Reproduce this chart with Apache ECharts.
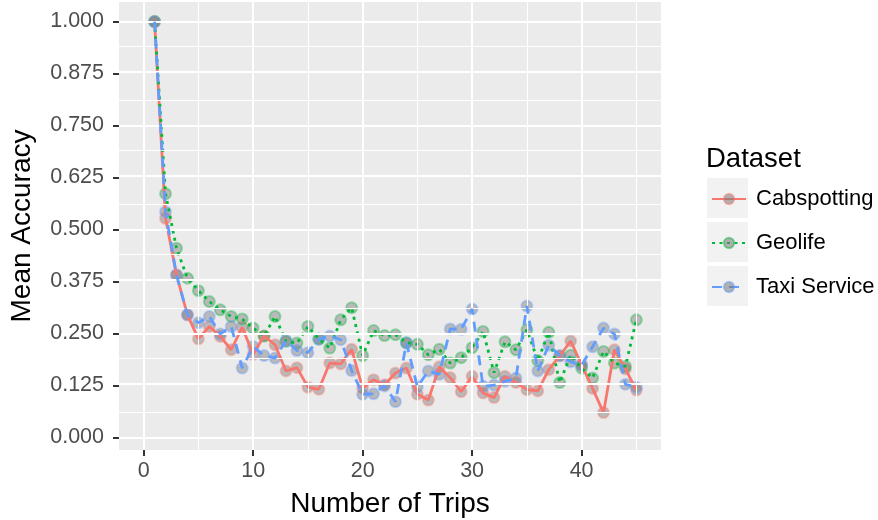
<!DOCTYPE html>
<html><head><meta charset="utf-8">
<script src="https://cdn.jsdelivr.net/npm/echarts@6/dist/echarts.min.js"></script>
<style>html,body{margin:0;padding:0;background:#fff}#c{width:878px;height:520px}</style>
</head><body><div id="c"></div>
<script>
const trips = [1,2,3,4,5,6,7,8,9,10,11,12,13,14,15,16,17,18,19,20,21,22,23,24,25,26,27,28,29,30,31,32,33,34,35,36,37,38,39,40,41,42,43,44,45];
const cabspotting = [1.000,0.527,0.391,0.295,0.237,0.267,0.243,0.211,0.265,0.200,0.244,0.223,0.160,0.168,0.121,0.116,0.179,0.177,0.212,0.119,0.139,0.127,0.155,0.167,0.104,0.090,0.170,0.144,0.110,0.147,0.107,0.096,0.147,0.132,0.115,0.112,0.163,0.196,0.232,0.175,0.118,0.060,0.211,0.165,0.114];
const geolife = [1.000,0.586,0.455,0.383,0.353,0.327,0.307,0.291,0.285,0.263,0.244,0.291,0.231,0.227,0.267,0.237,0.215,0.283,0.312,0.197,0.257,0.245,0.247,0.228,0.224,0.199,0.212,0.179,0.192,0.216,0.255,0.156,0.230,0.211,0.259,0.185,0.253,0.132,0.198,0.167,0.143,0.207,0.179,0.171,0.283];
const taxiService = [1.000,0.543,0.391,0.295,0.276,0.291,0.249,0.267,0.167,0.219,0.197,0.191,0.233,0.209,0.204,0.236,0.244,0.235,0.161,0.104,0.105,0.124,0.086,0.227,0.122,0.160,0.152,0.261,0.260,0.309,0.123,0.126,0.135,0.143,0.316,0.160,0.222,0.197,0.182,0.174,0.218,0.263,0.249,0.128,0.121];
const seriesNames = ['Cabspotting','Geolife','Taxi Service'];
const xTicks = [0,10,20,30,40];
const xMinor = [5,15,25,35,45];
const yTicks = [0,0.125,0.25,0.375,0.5,0.625,0.75,0.875,1];
const yMinor = [0.0625,0.1875,0.3125,0.4375,0.5625,0.6875,0.8125,0.9375];

const FONT = "'Liberation Sans', Arial, Helvetica, sans-serif";
const colors = ['#F8766D','#00BA38','#619CFF'];
const rgba = (hex,a)=>{const n=parseInt(hex.slice(1),16);return `rgba(${n>>16&255},${n>>8&255},${n&255},${a})`;};

const gridLines = [];
xMinor.forEach(v=>gridLines.push({xAxis:v,lineStyle:{width:1}}));
yMinor.forEach(v=>gridLines.push({yAxis:v,lineStyle:{width:1}}));
xTicks.forEach(v=>gridLines.push({xAxis:v,lineStyle:{width:2}}));
yTicks.forEach(v=>gridLines.push({yAxis:v,lineStyle:{width:2}}));

const dataSets = [cabspotting, geolife, taxiService];
const dashes = ['solid',[3,4.5],[10,7]];
const pointStyle = k => ({color:'rgba(120,120,120,0.55)', borderColor:rgba(colors[k],0.45), borderWidth:2});

const series = [{
  name:'_grid', type:'line', data:[], z:1, silent:true, symbol:'none',
  markLine:{silent:true, symbol:['none','none'], label:{show:false}, animation:false,
    lineStyle:{color:'#ffffff', type:'solid'}, emphasis:{disabled:true}, data:gridLines}
}];
dataSets.forEach((vals,k)=>{
  series.push({
    name:'_pts'+k, type:'scatter', z:2,
    data:trips.map((t,i)=>[t,vals[i]]),
    symbol:'circle', symbolSize:11,
    itemStyle:pointStyle(k), emphasis:{disabled:true}, animation:false, silent:true
  });
});
dataSets.forEach((vals,k)=>{
  series.push({
    name:seriesNames[k], type:'line', z:3+k,
    data:trips.map((t,i)=>[t,vals[i]]),
    symbol:'circle', symbolSize:11, showSymbol:false,
    lineStyle:{color:colors[k], width:2.8, type:dashes[k], cap:'butt'},
    itemStyle:pointStyle(k),
    emphasis:{disabled:true}, animation:false
  });
});

const chart = echarts.init(document.getElementById('c'), null, {renderer:'canvas'});
chart.setOption({
  animation:false,
  backgroundColor:'#ffffff',
  textStyle:{fontFamily:FONT},
  grid:{left:119, right:878-661, top:2, bottom:70, show:true, backgroundColor:'#EBEBEB', borderWidth:0, containLabel:false, outerBoundsMode:'none'},
  title:{text:'Dataset', left:706, top:145, padding:0, textStyle:{fontFamily:FONT, fontSize:27.5, fontWeight:'normal', color:'#000'}},
  legend:{
    data:seriesNames, orient:'vertical', left:711, top:179, padding:0,
    itemWidth:34, itemHeight:13, itemGap:4,
    textStyle:{fontFamily:FONT, fontSize:22, color:'#000', lineHeight:40, padding:[0,0,0,5]},
    selectedMode:false
  },
  graphic:[
    {type:'rect', shape:{x:707,y:178,width:41,height:40}, style:{fill:'#F2F2F2'}, z:-1, silent:true},
    {type:'rect', shape:{x:707,y:222,width:41,height:40}, style:{fill:'#F2F2F2'}, z:-1, silent:true},
    {type:'rect', shape:{x:707,y:266,width:41,height:40}, style:{fill:'#F2F2F2'}, z:-1, silent:true}
  ],
  xAxis:{type:'value', min:-2.25, max:47.25,
    name:'Number of Trips', nameLocation:'middle', nameGap:40,
    nameTextStyle:{fontFamily:FONT, fontSize:28, color:'#000'},
    axisLine:{show:false, onZero:false},
    axisTick:{show:true, length:6, interval:0, customValues:xTicks, lineStyle:{color:'#333333', width:2}},
    axisLabel:{customValues:xTicks, interval:0, margin:10, fontFamily:FONT, fontSize:21.5, color:'#4D4D4D'},
    splitLine:{show:false}, minorSplitLine:{show:false}
  },
  yAxis:{type:'value', min:-0.030, max:1.047,
    name:'Mean Accuracy', nameLocation:'middle', nameGap:83,
    nameTextStyle:{fontFamily:FONT, fontSize:28, color:'#000'},
    axisLine:{show:false, onZero:false},
    axisTick:{show:true, length:6, interval:0, customValues:yTicks, lineStyle:{color:'#333333', width:2}},
    axisLabel:{customValues:yTicks, interval:0, margin:15, fontFamily:FONT, fontSize:21.5, color:'#4D4D4D', formatter:v=>v.toFixed(3)},
    splitLine:{show:false}, minorSplitLine:{show:false}
  },
  series:series
});
</script></body></html>
